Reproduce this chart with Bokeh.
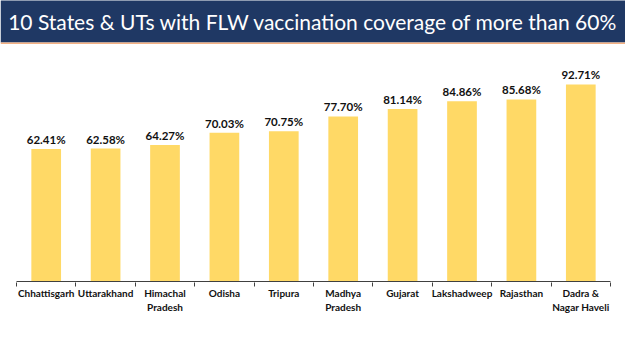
from bokeh.plotting import figure
from bokeh.models import ColumnDataSource, Range1d, FixedTicker, BoxAnnotation, Label
from bokeh.core.properties import value
from bokeh.embed import file_html
from bokeh.resources import INLINE

title_text = "10 States & UTs with FLW vaccination coverage of more than 60%"
states = ["Chhattisgarh", "Uttarakhand", "Himachal\nPradesh", "Odisha", "Tripura",
          "Madhya\nPradesh", "Gujarat", "Lakshadweep", "Rajasthan", "Dadra &\nNagar Haveli"]
coverage = [62.41, 62.58, 64.27, 70.03, 70.75, 77.70, 81.14, 84.86, 85.68, 92.71]
labels = [f"{v:.2f}%" for v in coverage]

centers = [i + 0.5 for i in range(len(states))]
bounds = [i for i in range(len(states) + 1)]

W, H = 625, 351
px_x = 59.4
px_y = 2.125
axis_px = 281
frame_h = axis_px + 1
xs = -16 / px_x
xe = xs + W / px_x
ys = -1 / px_y
ye = axis_px / px_y

p = figure(width=W, height=H, output_backend="svg", toolbar_location=None,
           x_range=Range1d(xs, xe), y_range=Range1d(ys, ye),
           min_border_left=0, min_border_right=0, min_border_top=0,
           min_border_bottom=H - frame_h)
p.outline_line_color = None
p.grid.grid_line_color = None
p.yaxis.visible = False
p.background_fill_color = "white"
p.border_fill_color = "white"

src = ColumnDataSource(dict(x=centers, top=coverage, label=labels))
p.vbar(x="x", top="top", width=0.5, bottom=0, source=src,
       fill_color="#FFD966", line_color=None)
p.text(x="x", y="top", text="label", source=src, text_align="center",
       text_baseline="bottom", y_offset=-3, text_font=value("Lato"),
       text_font_style="bold", text_font_size="11.5px", text_color="#111111")

# axis line spanning the categories
p.segment(x0=[bounds[0]], y0=[0], x1=[bounds[-1]], y1=[0], line_color="#404040", line_width=1.2)

ax = p.xaxis[0]
ax.ticker = FixedTicker(ticks=centers, minor_ticks=bounds)
ax.major_label_overrides = {c: s for c, s in zip(centers, states)}
ax.axis_line_color = None
ax.major_tick_line_color = None
ax.major_tick_out = 0
ax.major_tick_in = 0
ax.minor_tick_in = 0
ax.minor_tick_out = 4
ax.minor_tick_line_color = "#404040"
ax.minor_tick_line_width = 1
ax.major_label_standoff = 0
ax.major_label_text_font = "Lato"
ax.major_label_text_font_style = "bold"
ax.major_label_text_font_size = "10px"
ax.major_label_text_color = "#111111"

# title banner
banner_bottom = (axis_px - 42) / px_y
p.add_layout(BoxAnnotation(bottom=banner_bottom, top=ye + 5, fill_color="#1F3864",
                           fill_alpha=1, line_color=None, level="overlay"))
p.add_layout(BoxAnnotation(bottom=(axis_px - 43.5) / px_y, top=banner_bottom,
                           fill_color="#F4B183", fill_alpha=1, line_color=None, level="overlay"))
p.add_layout(Label(x=(xs + xe) / 2, y=(axis_px - 21) / px_y, text=title_text,
                   text_align="center", text_baseline="middle", text_color="white",
                   text_font="Lato", text_font_size="21px", level="overlay"))

open("out.html", "w").write(file_html(p, INLINE))
